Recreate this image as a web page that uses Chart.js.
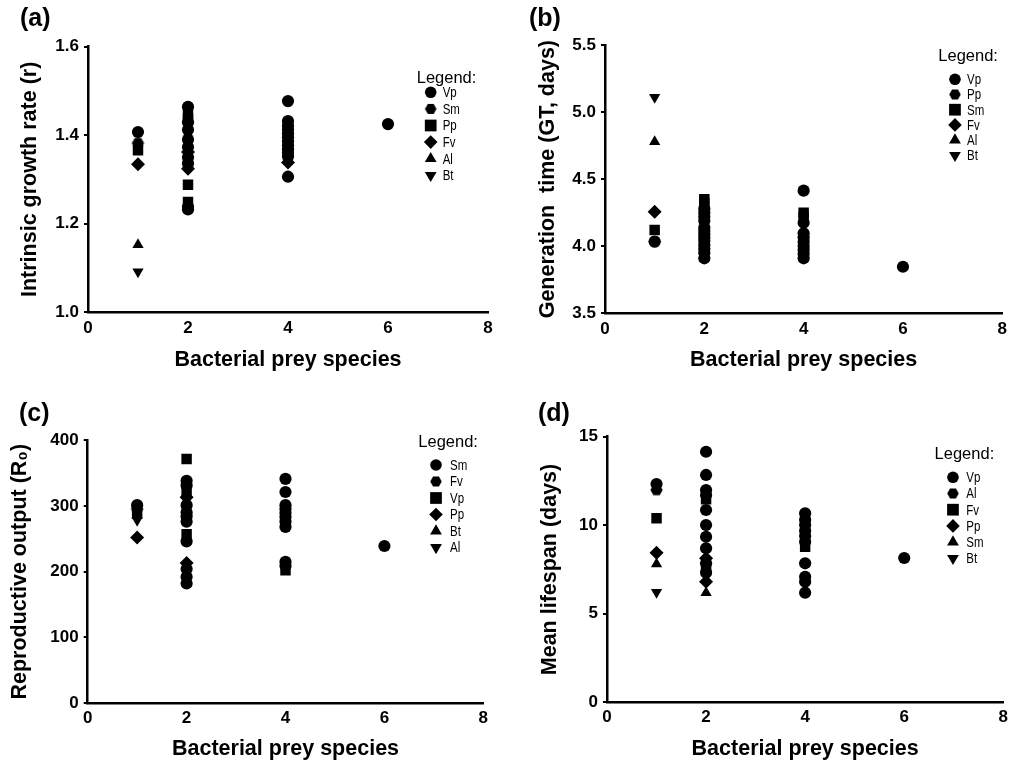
<!DOCTYPE html>
<html>
<head>
<meta charset="utf-8">
<script src="https://cdn.jsdelivr.net/npm/chart.js@4/dist/chart.umd.min.js"></script>
<style>
  html, body { margin: 0; padding: 0; background: #fff; }
  #wrap { position: relative; width: 1013px; height: 765px; overflow: hidden; }
  canvas { position: absolute; }
  .plab { position: absolute; font: bold 25px "Liberation Sans", Arial, sans-serif; color: #000; line-height: 25px; }
</style>
</head>
<body>
<div id="wrap">
  <canvas id="ca" width="506" height="380" style="left:0px;top:0px;width:506px;height:380px"></canvas>
  <canvas id="cb" width="507" height="380" style="left:506px;top:0px;width:507px;height:380px"></canvas>
  <canvas id="cc" width="506" height="385" style="left:0px;top:380px;width:506px;height:385px"></canvas>
  <canvas id="cd" width="507" height="385" style="left:506px;top:380px;width:507px;height:385px"></canvas>
  <div class="plab" style="left:20px;top:5px">(a)</div>
  <div class="plab" style="left:529px;top:5px">(b)</div>
  <div class="plab" style="left:19px;top:400px">(c)</div>
  <div class="plab" style="left:538px;top:400px">(d)</div>
</div>
<script>
// ---------------- DATA ----------------
const X_LABEL = 'Bacterial prey species';

// (a) Intrinsic growth rate (r)
const A_SPECIES = ['Vp', 'Sm', 'Pp', 'Fv', 'Al', 'Bt'];
const A_SHAPES  = ['circle', 'hex', 'square', 'diamond', 'up', 'down'];
const A_SINGLE  = [1.407, 1.382, 1.366, 1.334, 1.152, 1.091];
const A_MIX_CIRCLE  = {2: [1.464, 1.429, 1.412, 1.390, 1.373, 1.350, 1.336, 1.238, 1.232],
                       4: [1.477, 1.432, 1.422, 1.413, 1.404, 1.395, 1.386, 1.377, 1.368, 1.360, 1.352, 1.306],
                       6: [1.425]};
const A_MIX_SQUARE  = {2: [1.447, 1.436, 1.288, 1.249]};
const A_MIX_DIAMOND = {2: [1.362, 1.324], 4: [1.338]};

// (b) Generation time (GT, days)
const B_SPECIES = ['Vp', 'Pp', 'Sm', 'Fv', 'Al', 'Bt'];
const B_SHAPES  = ['circle', 'hex', 'square', 'diamond', 'up', 'down'];
const B_SINGLE  = [4.034, 4.034, 4.121, 4.257, 4.779, 5.110];
const B_MIX_CIRCLE = {2: [4.28, 4.25, 4.22, 4.19, 4.14, 4.115, 4.09, 4.065, 4.04, 4.01, 3.98, 3.95, 3.91],
                      4: [4.414, 4.175, 4.096, 4.066, 4.034, 4.001, 3.973, 3.943, 3.910],
                      6: [3.847]};
const B_MIX_SQUARE = {2: [4.350, 4.320], 4: [4.250, 4.220]};

// (c) Reproductive output (R0)
const C_SPECIES = ['Sm', 'Fv', 'Vp', 'Pp', 'Bt', 'Al'];
const C_SHAPES  = ['circle', 'hex', 'square', 'diamond', 'up', 'down'];
const C_SINGLE  = [301, 295, 290, 252, 285, 278];
const C_MIX_CIRCLE  = {2: [338, 331, 301, 290, 284, 276, 246, 204, 192, 182],
                       4: [341, 321, 301, 295, 289, 283, 276, 268, 215, 209],
                       6: [239]};
const C_MIX_SQUARE  = {2: [371, 319, 257], 4: [202]};
const C_MIX_DIAMOND = {2: [313, 213]};

// (d) Mean lifespan (days)
const D_SPECIES = ['Vp', 'Al', 'Fv', 'Pp', 'Sm', 'Bt'];
const D_SHAPES  = ['circle', 'hex', 'square', 'diamond', 'up', 'down'];
const D_SINGLE  = [12.33, 11.99, 10.39, 8.45, 7.81, 6.21];
const D_MIX_CIRCLE  = {2: [14.15, 12.84, 11.99, 11.71, 10.86, 10.01, 9.35, 8.70, 7.85, 7.32],
                       4: [10.67, 10.30, 10.01, 9.69, 9.39, 9.07, 7.85, 7.09, 6.81, 6.19],
                       6: [8.15]};
const D_MIX_SQUARE  = {2: [11.47, 7.57], 4: [8.79]};
const D_MIX_DIAMOND = {2: [8.13, 6.81]};
const D_MIX_UP      = {2: [6.19]};

// ---------------- STYLE ----------------
const FONT = '"Liberation Sans", Arial, Helvetica, sans-serif';

function hexCanvas(r) {
  const s = Math.ceil(r * 2 + 2);
  const c = document.createElement('canvas');
  c.width = s; c.height = s;
  const g = c.getContext('2d');
  g.fillStyle = '#000';
  g.beginPath();
  for (let i = 0; i < 6; i++) {
    const a = Math.PI / 3 * i;
    const px = s / 2 + r * Math.cos(a), py = s / 2 + r * Math.sin(a);
    if (i === 0) g.moveTo(px, py); else g.lineTo(px, py);
  }
  g.closePath(); g.fill();
  return c;
}
const HEX_DATA = hexCanvas(6.2);
const HEX_LEG = hexCanvas(5.8);

const SHAPE_STYLE = {
  circle:  {pointStyle: 'circle',   radius: 6.1, rotation: 0,   leg: 5.8},
  hex:     {pointStyle: HEX_DATA,   radius: 6.2, rotation: 0,   leg: 5.8, legStyle: HEX_LEG},
  square:  {pointStyle: 'rect',     radius: 7.4, rotation: 0,   leg: 8.3},
  diamond: {pointStyle: 'rectRot',  radius: 7.0, rotation: 0,   leg: 6.8},
  up:      {pointStyle: 'triangle', radius: 6.5, rotation: 0,   leg: 6.8},
  down:    {pointStyle: 'triangle', radius: 6.5, rotation: 180, leg: 6.8}
};

function ds(label, shape, pts, inLegend) {
  const st = SHAPE_STYLE[shape];
  return {
    label: label, data: pts, shape: shape, inLegend: inLegend,
    pointStyle: st.pointStyle, pointRadius: st.radius, pointRotation: st.rotation,
    pointBackgroundColor: '#000', pointBorderColor: '#000', pointBorderWidth: 0,
    showLine: false
  };
}
function mixPts(obj) {
  const out = [];
  Object.keys(obj).forEach(k => obj[k].forEach(v => out.push({x: Number(k), y: v})));
  return out;
}
function buildDatasets(species, shapes, single, mixes) {
  const list = species.map((s, i) => ds(s, shapes[i], [{x: 1, y: single[i]}], true));
  mixes.forEach(m => list.push(ds('Mixture', m[0], mixPts(m[1]), false)));
  return list;
}

const speciesLegend = {
  id: 'speciesLegend',
  afterDatasetsDraw(chart, args, o) {
    const ctx = chart.ctx, ca = chart.chartArea;
    ctx.save();
    ctx.fillStyle = '#000';
    ctx.textBaseline = 'middle';
    ctx.textAlign = 'left';
    ctx.font = '16.5px ' + FONT;
    ctx.fillText('Legend:', ca.right + o.titleDx, ca.top + o.titleDy);
    ctx.font = '14px ' + FONT;
    let row = 0;
    chart.data.datasets.forEach(d => {
      if (!d.inLegend) return;
      const y = ca.top + o.rowDy + row * o.rowH;
      const x = ca.right + o.markDx;
      const st = SHAPE_STYLE[d.shape];
      ctx.fillStyle = '#000';
      if (st.legStyle) {
        ctx.drawImage(st.legStyle, x - st.legStyle.width / 2, y - st.legStyle.height / 2);
      } else {
        Chart.helpers.drawPoint(ctx, {pointStyle: st.pointStyle, radius: st.leg, rotation: st.rotation, borderWidth: 0}, x, y);
      }
      // condensed label (narrow face as in the original)
      ctx.save();
      ctx.translate(ca.right + o.textDx, y + 1);
      ctx.scale(0.82, 1);
      ctx.fillText(d.label, 0, 0);
      ctx.restore();
      row++;
    });
    ctx.restore();
  }
};

function makeChart(id, p) {
  new Chart(document.getElementById(id), {
    type: 'scatter',
    data: {datasets: p.datasets},
    plugins: [speciesLegend],
    options: {
      responsive: false, animation: false, events: [],
      layout: {padding: {left: 0, top: p.padTop, right: p.padRight, bottom: 0}},
      plugins: {legend: {display: false}, tooltip: {enabled: false}, speciesLegend: p.legend},
      scales: {
        x: {
          type: 'linear', min: 0, max: 8,
          ticks: {stepSize: 2, color: '#000', padding: p.xTickPad, font: {family: FONT, size: 17, weight: 'bold'}},
          grid: {drawOnChartArea: false, drawTicks: false},
          border: {color: '#000', width: 2.5},
          title: {display: true, text: X_LABEL, color: '#000', font: {family: FONT, size: 21.5, weight: 'bold'},
                  padding: {top: 0, bottom: p.xTitlePad}},
          afterFit: s => { s.height = p.xHeight; }
        },
        y: {
          type: 'linear', min: p.yMin, max: p.yMax,
          ticks: {stepSize: p.yStep, color: '#000', padding: 5, font: {family: FONT, size: 17, weight: 'bold'},
                  callback: v => p.yDec ? Number(v).toFixed(p.yDec) : String(Math.round(v))},
          grid: {drawOnChartArea: false, drawTicks: true, tickLength: 4, color: '#000', lineWidth: 2},
          border: {color: '#000', width: 2.5},
          title: {display: true, text: p.yTitle, color: '#000', font: {family: FONT, size: 21.5, weight: 'bold'},
                  padding: {top: p.yTitlePad, bottom: 0}},
          afterFit: s => { s.width = p.yWidth; }
        }
      }
    }
  });
}

makeChart('ca', {
  datasets: buildDatasets(A_SPECIES, A_SHAPES, A_SINGLE,
    [['circle', A_MIX_CIRCLE], ['square', A_MIX_SQUARE], ['diamond', A_MIX_DIAMOND]]),
  yMin: 1.0, yMax: 1.6, yStep: 0.2, yDec: 1, yTitle: 'Intrinsic growth rate (r)',
  padTop: 46.7, padRight: 18, yWidth: 88, xHeight: 68, xTickPad: 6, xTitlePad: 7.1, yTitlePad: 17.1,
  legend: {titleDx: -71.3, titleDy: 31.8, markDx: -57.3, textDx: -45.3, rowDy: 45.6, rowH: 16.6}
});
makeChart('cb', {
  datasets: buildDatasets(B_SPECIES, B_SHAPES, B_SINGLE,
    [['circle', B_MIX_CIRCLE], ['square', B_MIX_SQUARE]]),
  yMin: 3.5, yMax: 5.5, yStep: 0.5, yDec: 1, yTitle: 'Generation  time (GT, days)',
  padTop: 45, padRight: 5, yWidth: 99, xHeight: 66.7, xTickPad: 6, xTitlePad: 7.1, yTitlePad: 29.1,
  legend: {titleDx: -64, titleDy: 11.7, markDx: -47.3, textDx: -35.3, rowDy: 34.3, rowH: 15.2}
});
makeChart('cc', {
  datasets: buildDatasets(C_SPECIES, C_SHAPES, C_SINGLE,
    [['circle', C_MIX_CIRCLE], ['square', C_MIX_SQUARE], ['diamond', C_MIX_DIAMOND]]),
  yMin: 0, yMax: 400, yStep: 100, yDec: 0, yTitle: 'Reproductive output (R\u2080)',
  padTop: 60, padRight: 22.7, yWidth: 87.7, xHeight: 61.7, xTickPad: 5, xTitlePad: 3.1, yTitlePad: 7.1,
  legend: {titleDx: -65, titleDy: 2.5, markDx: -47.3, textDx: -33.3, rowDy: 25, rowH: 16.5}
});
makeChart('cd', {
  datasets: buildDatasets(D_SPECIES, D_SHAPES, D_SINGLE,
    [['circle', D_MIX_CIRCLE], ['square', D_MIX_SQUARE], ['diamond', D_MIX_DIAMOND], ['up', D_MIX_UP]]),
  yMin: 0, yMax: 15, yStep: 5, yDec: 0, yTitle: 'Mean lifespan (days)',
  padTop: 56.7, padRight: 6, yWidth: 101, xHeight: 62.7, xTickPad: 5, xTitlePad: 3.1, yTitlePad: 31.1,
  legend: {titleDx: -68.7, titleDy: 17.3, markDx: -50.3, textDx: -37, rowDy: 40.6, rowH: 16.2}
});
</script>
</body>
</html>
